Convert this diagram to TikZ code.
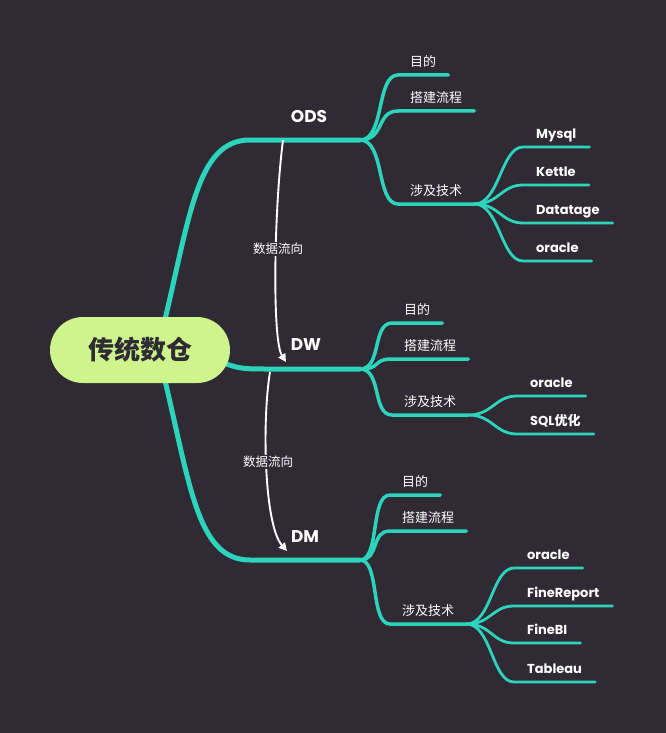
\documentclass[tikz,border=0pt]{standalone}
\usepackage{fontspec}
\setmainfont{Poppins}
\newfontfamily\cjk{Noto Sans CJK SC}
\usetikzlibrary{arrows.meta}
\definecolor{bgdark}{HTML}{2F2A33}
\definecolor{branchteal}{HTML}{2DD4BD}
\definecolor{rootgreen}{HTML}{CEF58B}

\begin{document}
\begin{tikzpicture}[
    x=1pt, y=-1pt,
    root/.style={rectangle, rounded corners=33pt, fill=rootgreen, text=bgdark, minimum width=180pt, minimum height=66pt, font=\cjk\bfseries\fontsize{26}{26}\selectfont},
    layer/.style={white, font=\bfseries\fontsize{17}{17}\selectfont},
    topic/.style={anchor=south west, white, inner xsep=12pt, inner ysep=5pt, text height=10pt, text depth=3pt, font=\cjk\fontsize{13}{13}\selectfont},
    tech/.style={topic, inner xsep=13pt, font=\bfseries\fontsize{13}{13}\selectfont},
    trunk/.style={line width=5pt, branchteal, line cap=round},
    stem/.style={line width=3.5pt, branchteal, line cap=round},
    twig/.style={line width=2.8pt, branchteal, line cap=round},
    flow/.style={-{Triangle[width=8pt, length=8pt]}, white, line width=1.9pt},
    flowlabel/.style={fill=bgdark, text=white, inner sep=1pt, font=\cjk\fontsize{12.5}{12.5}\selectfont}
]
\fill[bgdark] (0,0) rectangle (666,733);
\useasboundingbox (0,0) rectangle (666,733);

% Trunks from the root
\coordinate (ods-l) at (250, 140);
\coordinate (ods-r) at (360, 140);
\coordinate (dw-l) at (270, 369);
\coordinate (dw-r) at (360, 369);
\coordinate (dm-l) at (250, 560);
\coordinate (dm-r) at (360, 560);

\draw[trunk] (160, 340) .. controls (190, 220) and (195, 140) .. (ods-l) -- (ods-r);
\draw[trunk] (215, 360) .. controls (240, 369) .. (dw-l) -- (dw-r);
\draw[trunk] (160, 360) .. controls (190, 480) and (195, 560) .. (dm-l) -- (dm-r);

\node[root] (dwh) at (140, 350) {传统数仓};

\node[layer] (ods) at (309, 117) {ODS};
\node[layer] (dw) at (306, 345) {DW};
\node[layer] (dm) at (305, 537) {DM};

% ODS
\node[topic] (ods-goal) at (398, 75) {目的};
\node[topic] (ods-build) at (398, 111) {搭建流程};
\node[topic] (ods-tech) at (398, 204) {涉及技术};
\foreach \n in {ods-goal, ods-build, ods-tech}
    \draw[stem] (ods-r) .. controls +(25,0) and +(-22,0) .. (\n.south west) -- (\n.south east);

\node[tech] (ods-mysql) at (523, 147) {Mysql};
\node[tech] (ods-kettle) at (523, 185) {Kettle};
\node[tech] (ods-datatage) at (523, 223) {Datatage};
\node[tech] (ods-oracle) at (523, 261) {oracle};
\foreach \n in {ods-mysql, ods-kettle, ods-datatage, ods-oracle}
    \draw[twig] (ods-tech.south east) .. controls +(25,0) and +(-22,0) .. (\n.south west) -- (\n.south east);

% DW
\node[topic] (dw-goal) at (392, 323) {目的};
\node[topic] (dw-build) at (392, 359) {搭建流程};
\node[topic] (dw-tech) at (392, 415) {涉及技术};
\foreach \n in {dw-goal, dw-build, dw-tech}
    \draw[stem] (dw-r) .. controls +(22,0) and +(-20,0) .. (\n.south west) -- (\n.south east);

\node[tech] (dw-oracle) at (517, 396) {oracle};
\node[tech] (dw-sql) at (517, 434) {SQL{\cjk 优化}};
\foreach \n in {dw-oracle, dw-sql}
    \draw[twig] (dw-tech.south east) .. controls +(24,0) and +(-22,0) .. (\n.south west) -- (\n.south east);

% DM
\node[topic] (dm-goal) at (390, 495) {目的};
\node[topic] (dm-build) at (390, 531) {搭建流程};
\node[topic] (dm-tech) at (390, 624) {涉及技术};
\foreach \n in {dm-goal, dm-build, dm-tech}
    \draw[stem] (dm-r) .. controls +(20,0) and +(-20,0) .. (\n.south west) -- (\n.south east);

\node[tech] (dm-oracle) at (514, 568) {oracle};
\node[tech] (dm-finereport) at (514, 606) {FineReport};
\node[tech] (dm-finebi) at (514, 643) {FineBI};
\node[tech] (dm-tableau) at (514, 682) {Tableau};
\foreach \n in {dm-oracle, dm-finereport, dm-finebi, dm-tableau}
    \draw[twig] (dm-tech.south east) .. controls +(25,0) and +(-22,0) .. (\n.south west) -- (\n.south east);

% Data flow
\coordinate (flow-a) at (283, 140);
\coordinate (flow-b) at (286, 362);
\coordinate (flow-c) at (270, 372);
\coordinate (flow-d) at (287, 551);

\draw[flow] (flow-a) .. controls (274, 210) and (272, 340) .. (flow-b);
\draw[flow] (flow-c) .. controls (262, 420) and (264, 525) .. (flow-d);
\node[flowlabel] (flow-ods) at (278, 249) {数据流向};
\node[flowlabel] (flow-dw) at (268, 462) {数据流向};

\end{tikzpicture}
\end{document}
